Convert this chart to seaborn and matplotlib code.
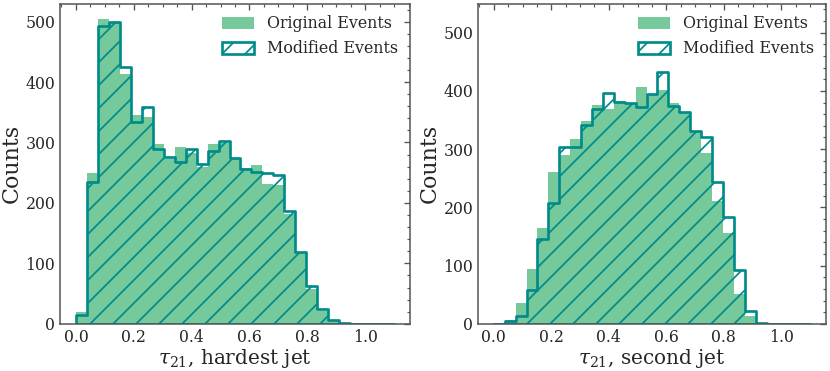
import numpy as np
import pandas as pd
import matplotlib
matplotlib.use("Agg")
import matplotlib.pyplot as plt
import seaborn as sns
from matplotlib.patches import Patch
from matplotlib.ticker import AutoMinorLocator, MultipleLocator

# ---------------- data (29 bins over 0 .. 1.1) ----------------
bin_edges = np.linspace(0.0, 1.1, 30)

hardest_original = [20, 250, 504, 497, 414, 345, 343, 297, 272, 293, 283, 260, 298, 299,
                    272, 258, 263, 231, 229, 182, 117, 58, 21, 4, 1, 0, 0, 0, 0]
hardest_modified = [15, 235, 492, 499, 425, 334, 359, 290, 276, 268, 289, 265, 286, 302,
                    274, 256, 252, 250, 247, 187, 118, 63, 25, 7, 2, 0, 0, 0, 0]

second_original = [1, 6, 35, 94, 164, 261, 290, 318, 349, 375, 369, 382, 378, 406,
                   395, 402, 380, 362, 331, 294, 211, 156, 51, 13, 1, 0, 0, 0, 0]
second_modified = [0, 4, 14, 58, 146, 208, 304, 304, 341, 369, 397, 381, 380, 372,
                   394, 432, 374, 364, 331, 321, 244, 184, 92, 22, 1, 0, 0, 0, 0]

x_labels = [r"$\tau_{21}$, hardest jet", r"$\tau_{21}$, second jet"]
legend_labels = ["Original Events", "Modified Events"]
y_limits = [530, 550]

# ---------------- style ----------------
sns.set_style("white")
plt.rcParams.update({
    "font.family": ["DejaVu Serif"],
    "mathtext.fontset": "dejavuserif",
    "hatch.linewidth": 0.9,
    "axes.edgecolor": "#555555",
    "axes.linewidth": 0.8,
})
try:
    plt.rcParams["hatch.color"] = "darkcyan"
except Exception:
    pass

fill_color = "mediumseagreen"
edge_color = "darkcyan"

dpi = 138.333
fig = plt.figure(figsize=(830 / dpi, 371 / dpi), dpi=dpi)
W, H = 830.0, 371.0
ax1 = fig.add_axes([60 / W, 1 - 323.8 / H, 350 / W, 320.3 / H])
ax2 = fig.add_axes([478 / W, 1 - 323.8 / H, 348 / W, 320.3 / H])

centers = 0.5 * (bin_edges[:-1] + bin_edges[1:])
edges_list = [float(e) for e in bin_edges]
panels = [
    (ax1, hardest_original, hardest_modified, x_labels[0], y_limits[0]),
    (ax2, second_original, second_modified, x_labels[1], y_limits[1]),
]

for ax, orig, mod, xlabel, ytop in panels:
    df = pd.DataFrame({"x": centers, "orig": orig, "mod": mod})
    sns.histplot(data=df, x="x", weights="orig", bins=edges_list, element="bars",
                 fill=True, color=fill_color, alpha=0.7, linewidth=0, ax=ax)
    sns.histplot(data=df, x="x", weights="mod", bins=edges_list, element="step",
                 fill=True, color=edge_color, facecolor="none", edgecolor=edge_color,
                 hatch="//", linewidth=1.4, ax=ax)
    ax.set_xlim(-0.055, 1.155)
    ax.set_ylim(0, ytop)
    ax.set_xlabel(xlabel, fontsize=10.4, labelpad=0.8)
    ax.set_ylabel("Counts", fontsize=11.5, labelpad=1.5)
    ax.xaxis.set_major_locator(MultipleLocator(0.2))
    ax.yaxis.set_major_locator(MultipleLocator(100))
    ax.xaxis.set_minor_locator(AutoMinorLocator())
    ax.yaxis.set_minor_locator(AutoMinorLocator())
    ax.tick_params(which="both", direction="in", top=True, right=True,
                   color="#555555", labelsize=8.2, pad=2.5)
    ax.tick_params(which="major", length=3, width=0.7)
    ax.tick_params(which="minor", length=1.6, width=0.6)
    for s in ax.spines.values():
        s.set_visible(True)
        s.set_color("#555555")
        s.set_linewidth(0.8)

    handles = [
        Patch(facecolor=fill_color, alpha=0.7, edgecolor="none"),
        Patch(facecolor="none", edgecolor=edge_color, hatch="//", linewidth=1.4),
    ]
    ax.legend(handles, legend_labels, loc="upper right", frameon=False, fontsize=8.3,
              handlelength=2.0, handleheight=0.75, borderaxespad=0.35)

fig.savefig("out.png", dpi=dpi)
